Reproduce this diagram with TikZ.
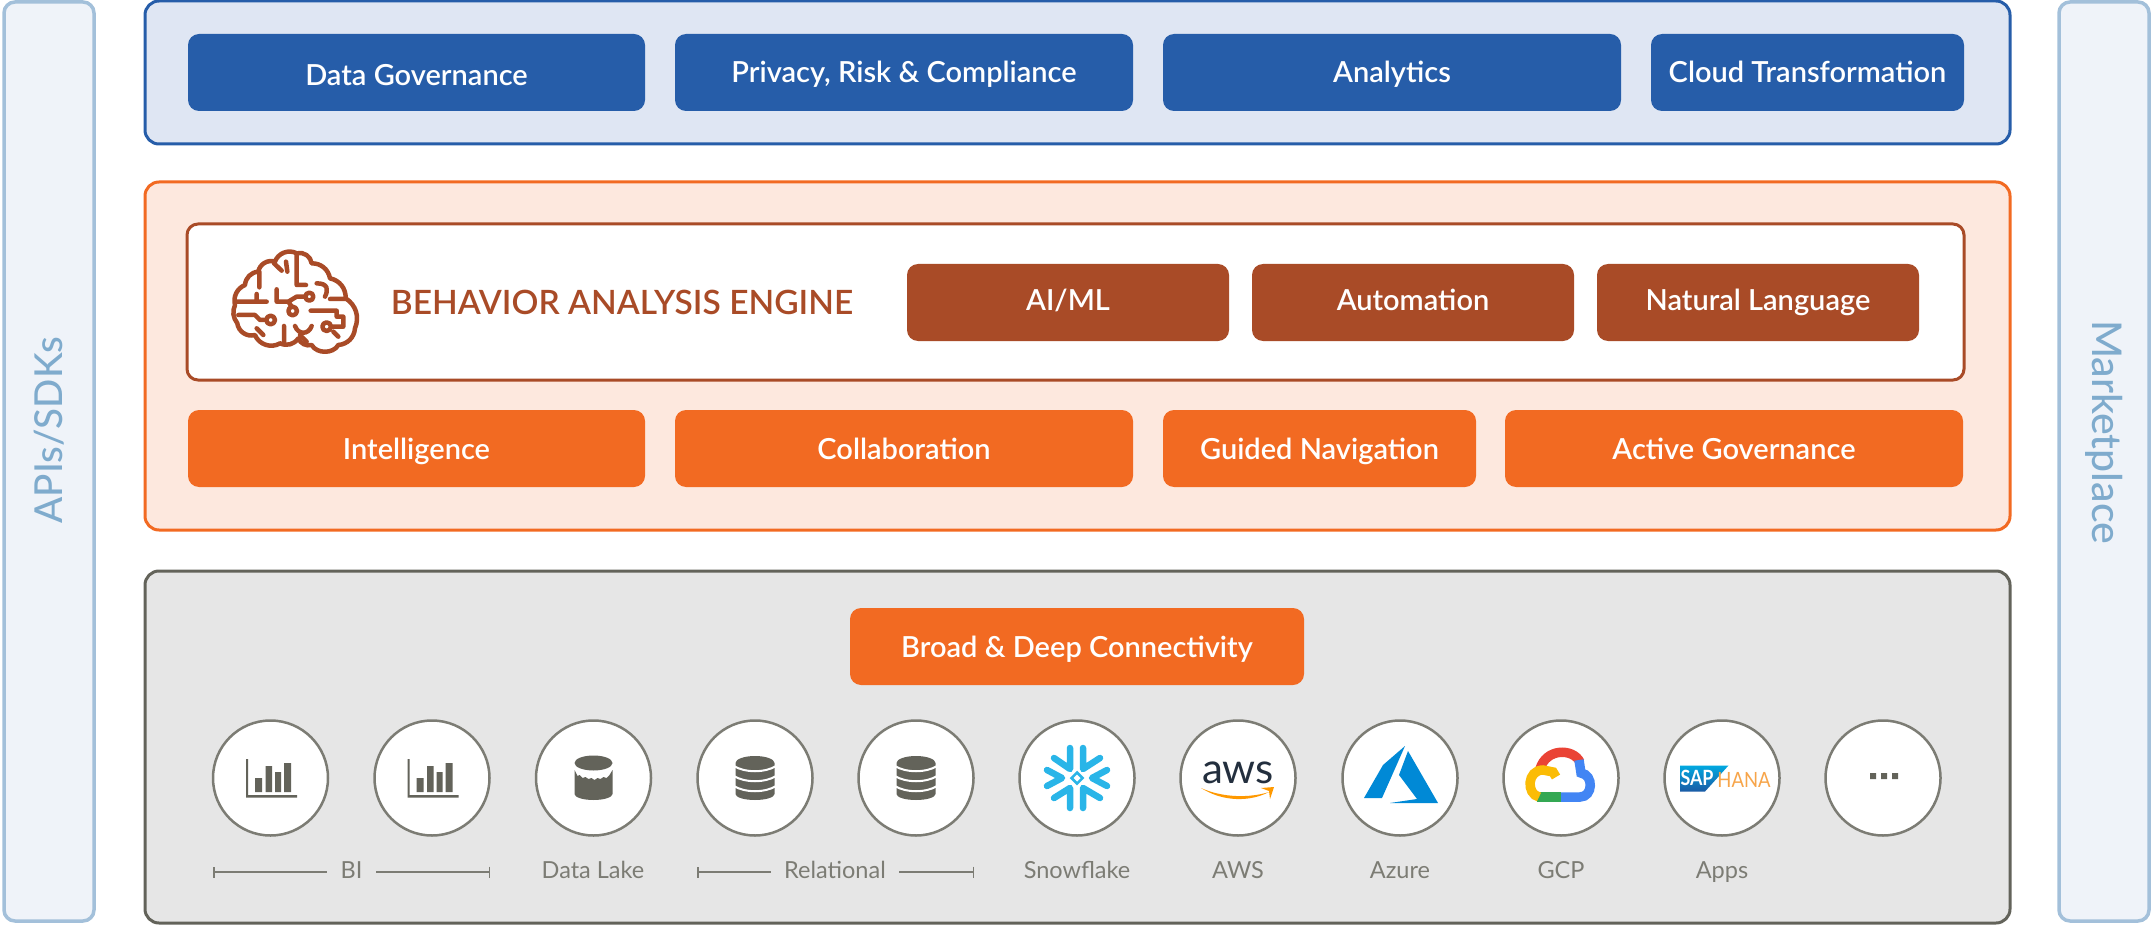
\documentclass[tikz,border=0pt]{standalone}
\usepackage{fontspec}
\setmainfont{Lato}
\newfontfamily\btnfont{Lato Semibold}
\newfontfamily\sidefont{Lato Medium}
\usetikzlibrary{positioning,arrows.meta}
\definecolor{blueline}{HTML}{265DA9}
\definecolor{bluepanel}{HTML}{DFE6F3}
\definecolor{orangeline}{HTML}{F26A22}
\definecolor{orangepanel}{HTML}{FDE8DE}
\definecolor{brownline}{HTML}{A94B27}
\definecolor{greypanel}{HTML}{E6E6E6}
\definecolor{greyline}{HTML}{63635A}
\definecolor{sideline}{HTML}{A3C0DA}
\definecolor{sidefill}{HTML}{EFF3F9}
\definecolor{sidetext}{HTML}{7FABCD}
\definecolor{labeltext}{HTML}{7C7C74}
\definecolor{snowblue}{HTML}{29B5E8}
\definecolor{awsdark}{HTML}{232F3E}
\definecolor{awsorange}{HTML}{FF9900}
\definecolor{azureblue}{HTML}{0089D6}
\definecolor{hanaorange}{HTML}{F7A54A}
\definecolor{sapcyan}{HTML}{00A9E0}
\definecolor{sapblue}{HTML}{1B5AA5}
\definecolor{gcpred}{HTML}{EA4335}
\definecolor{gcpblue}{HTML}{4285F4}
\definecolor{gcpgreen}{HTML}{34A853}
\definecolor{gcpyellow}{HTML}{FBBC05}
\newcommand{\fsize}[1]{\fontsize{#1}{#1}\selectfont}
\tikzset{
    panel/.style={draw, line width=3pt, rounded corners=14pt, inner sep=0pt},
    sidebar/.style={draw=sideline, fill=sidefill, line width=3.5pt, rounded corners=11pt, minimum width=90pt, minimum height=919pt, inner sep=0pt},
    sidelabel/.style={text=sidetext, inner sep=0pt},
    btn/.style={rounded corners=11pt, minimum height=77pt, text=white, font=\btnfont\fsize{29}, text height=27pt, text depth=6pt, inner sep=0pt},
    bluebtn/.style={btn, fill=blueline},
    orangebtn/.style={btn, fill=orangeline},
    brownbtn/.style={btn, fill=brownline, minimum width=322pt},
    srcircle/.style={circle, draw=labeltext, fill=white, line width=2.5pt, minimum size=115pt, inner sep=0pt},
    srclabel/.style={text=labeltext, font=\fsize{23.5}, text height=17pt, text depth=5pt, inner sep=0pt},
    rangebar/.style={draw=labeltext, line width=1.5pt, {Bar[width=11pt]}-},
    chart/.pic={
        \fill[greyline] (-24.5,-19) rectangle (-22.5,19.5) (-24.5,17) rectangle (26.5,19.5)
            (-15.5,0) rectangle (-8.5,14) (-5,-12) rectangle (1.5,14)
            (4.5,-6) rectangle (10.5,14) (13.5,-15) rectangle (20.5,14);
    },
    lakeicon/.pic={
        \fill[greyline] (0,-15) ellipse (19 and 7.5);
        \fill[greyline] (-19,-8) -- (-16,-2) -- (-14,-3) -- (-11,0) -- (-8,-1) -- (-5,1) -- (-2,0) -- (1,2)
            -- (4,0) -- (7,1) -- (10,-1) -- (13,0) -- (16,-3) -- (19,-8) -- (19,16) arc (0:180:19 and 6) -- cycle;
    },
    dbicon/.pic={
        \fill[greyline] (-19.5,-15) arc (180:360:19.5 and 7) -- (19.5,16) arc (0:180:19.5 and 6) -- cycle;
        \foreach \yy in {-12,-2,8}
            \draw[white, line width=2pt] (-21,\yy) .. controls (-10,\yy+7) and (10,\yy+7) .. (21,\yy);
    },
    snowicon/.pic={
        \draw[snowblue, line width=6.5pt, line cap=round, line join=round]
            (-7,-30) -- (-7,-9) -- (-23,-20) (6,-30) -- (6,-9) -- (23,-20)
            (-7,30) -- (-7,10) -- (-23,20) (6,30) -- (6,10) -- (23,20)
            (-30,-8) -- (-15,0) -- (-30,8) (30,-8) -- (15,0) -- (30,8);
        \draw[snowblue, line width=2.5pt] (0,-5.5) -- (5.5,0) -- (0,5.5) -- (-5.5,0) -- cycle;
    },
    awsicon/.pic={
        \node[text=awsdark, font=\fsize{42}, inner sep=0pt] (awstext) at (0,-5) {aws};
        \fill[awsorange] (-37,10) .. controls (-15,24) and (12,24) .. (31,14) .. controls (12,20) and (-15,20) .. cycle;
        \fill[awsorange] (23,10) -- (36,9) -- (32,21) -- (31,13) -- cycle;
    },
    azureicon/.pic={
        \fill[azureblue] (5,-32) -- (-17,-13) -- (-36,20) -- (-18,20) -- cycle;
        \fill[azureblue] (8,-27) -- (-1,-3) -- (17,21) -- (-10,25) -- (38,25) -- cycle;
    },
    gcpicon/.pic={
        \draw[gcpred, line width=9.5pt] (-21,-9) .. controls (-15,-30) and (12,-30) .. (19,-16);
        \draw[gcpblue, line width=9.5pt] (18,-18) -- (20,-5) .. controls (33,-3) and (32,19) .. (19,19) -- (0,19);
        \draw[gcpgreen, line width=9.5pt] (0,19) -- (-24,19);
        \draw[gcpyellow, line width=9.5pt] (-22,19) .. controls (-35,16) and (-34,-8) .. (-18,-8) -- (-8,-6) -- (-5,-1);
    },
    hanaicon/.pic={
        \shade[top color=sapcyan, bottom color=sapblue] (-42,-12.5) -- (6.5,-12.5) -- (-17,13.5) -- (-42,13.5) -- cycle;
        \node[text=white, font=\fsize{21}\bfseries, inner sep=0pt] (saptext) at (-25,0) {\scalebox{.85}[1]{SAP}};
        \node[text=hanaorange, font=\fsize{21}, inner sep=0pt] (hanatext) at (22,2) {\scalebox{.88}[1]{HANA}};
    },
    moreicon/.pic={
        \fill[greyline] (-13,-5) rectangle +(6,6) (-2,-5) rectangle +(6,6) (9,-5) rectangle +(6,6);
    },
}
\begin{document}
\begin{tikzpicture}[x=1pt, y=-1pt]
    \useasboundingbox (0,0) rectangle (2152,925);

    % side bars
    \node[sidebar] (apis) at (49,461.5) {};
    \node[sidebar] (market) at (2104,461.5) {};
    \node[sidelabel, font=\sidefont\fsize{38.5}, rotate=90] (apistext) at (49,430) {APIs/SDKs};
    \node[sidelabel, font=\sidefont\fsize{41}, rotate=-90] (markettext) at (2104,432) {Marketplace};

    % top layer
    \node[panel, draw=blueline, fill=bluepanel, minimum width=1865pt, minimum height=143pt] (toplayer) at (1077.5,72.5) {};
    \node[bluebtn, minimum width=457pt] (gov) at (416.5,72.5) {\raisebox{-3pt}{Data Governance}};
    \node[bluebtn, minimum width=458pt] (privacy) at (904,72.5) {Privacy, Risk \& Compliance};
    \node[bluebtn, minimum width=458pt] (analytics) at (1392,72.5) {Analytics};
    \node[bluebtn, minimum width=313pt] (cloud) at (1807.5,72.5) {Cloud Transformation};

    % middle layer
    \node[panel, draw=orangeline, fill=orangepanel, minimum width=1865pt, minimum height=348pt] (midlayer) at (1077.5,356) {};
    \node[panel, draw=brownline, fill=white, line width=3pt, rounded corners=11pt, minimum width=1777pt, minimum height=156pt] (engine) at (1075.5,302) {};
    \node[text=brownline, font=\btnfont\fsize{33.5}, inner sep=0pt] (enginetext) at (622,302) {BEHAVIOR ANALYSIS ENGINE};
    \node[brownbtn] (aiml) at (1068,302.5) {\raisebox{3pt}{AI/ML}};
    \node[brownbtn] (autom) at (1413,302.5) {\raisebox{3pt}{Automation}};
    \node[brownbtn] (natural) at (1758,302.5) {\raisebox{3pt}{Natural Language}};
    \node[orangebtn, minimum width=457pt] (intel) at (416.5,448.5) {Intelligence};
    \node[orangebtn, minimum width=458pt] (collab) at (904,448.5) {Collaboration};
    \node[orangebtn, minimum width=313pt] (guided) at (1319.5,448.5) {Guided Navigation};
    \node[orangebtn, minimum width=458pt] (active) at (1734,448.5) {Active Governance};

    % brain
    \begin{scope}[shift={(180,200)}, scale=1/3, draw=brownline, line width=4.5pt, line cap=round, line join=round]
        \draw (350,160) to[bend right=50] (285,185) to[bend right=50] (235,215) to[bend right=40] (195,255)
            to[bend right=40] (165,315) to[bend right=30] (172,370) to[bend right=50] (225,405)
            to[bend right=50] (300,430) to[bend right=40] (355,415) to[bend right=40] (395,435)
            to[bend right=60] (475,435) to[bend right=40] (525,385) to[bend right=40] (497,295)
            to[bend right=40] (450,235) to[bend right=40] (395,190) to[bend right=50] (350,160);
        \draw (350,165) -- (350,255) -- (378,255) (318,185) -- (322,215) (282,190) -- (305,212)
            (238,215) -- (238,262) (290,268) -- (290,305) -- (325,305) -- (335,320)
            (375,290) -- (350,290) -- (325,305) (168,305) -- (260,305) (230,282) -- (230,305)
            (175,345) -- (225,345) -- (240,360) -- (258,360)
            (392,332) -- (470,332) -- (470,350) -- (490,350) -- (490,380) -- (455,380)
            (312,378) -- (312,430) (230,385) -- (250,405) (450,297) -- (495,297)
            (345,378) .. controls (355,405) and (385,405) .. (395,378)
            (410,250) .. controls (445,250) and (445,270) .. (435,290)
            (360,405) -- (380,425) (475,410) -- (460,395);
        \draw (338,333) circle (13) (388,290) circle (12) (272,360) circle (13) (440,380) circle (13);
    \end{scope}

    % bottom layer
    \node[panel, draw=greyline, fill=greypanel, minimum width=1865pt, minimum height=352pt] (srclayer) at (1077.5,747) {};
    \node[orangebtn, minimum width=454pt] (connect) at (1077,646.5) {Broad \& Deep Connectivity};

    \foreach \px/\nm in {270.5/bia, 432/bib, 593.5/lake, 755/rela, 916/relb, 1077/snow, 1238/aws, 1400/azure, 1561/gcp, 1722/hana, 1883/more}
        \node[srcircle] (\nm) at (\px,778) {};
    \pic at (bia) {chart};
    \pic at (bib) {chart};
    \pic at (lake) {lakeicon};
    \pic at (rela) {dbicon};
    \pic at (relb) {dbicon};
    \pic at (snow) {snowicon};
    \pic at (aws) {awsicon};
    \pic at (azure) {azureicon};
    \pic at (gcp) {gcpicon};
    \pic at (hana) {hanaicon};
    \pic at (more) {moreicon};

    \node[srclabel, inner xsep=13pt] (bitext) at (351.5,872) {BI};
    \node[srclabel, inner xsep=13pt] (reltext) at (835,872) {Relational};
    \node[srclabel] (laketext) at (593,872) {Data Lake};
    \node[srclabel] (snowtext) at (1077,872) {Snowflake};
    \node[srclabel] (awstext2) at (1238,872) {AWS};
    \node[srclabel] (azuretext) at (1400,872) {Azure};
    \node[srclabel] (gcptext) at (1561,872) {GCP};
    \node[srclabel] (appstext) at (1722,872) {Apps};
    \coordinate (bileft) at (213,872);
    \coordinate (biright) at (490,872);
    \coordinate (relleft) at (697,872);
    \coordinate (relright) at (974,872);
    \draw[rangebar] (bileft) -- (bitext);
    \draw[rangebar] (biright) -- (bitext);
    \draw[rangebar] (relleft) -- (reltext);
    \draw[rangebar] (relright) -- (reltext);
\end{tikzpicture}
\end{document}
